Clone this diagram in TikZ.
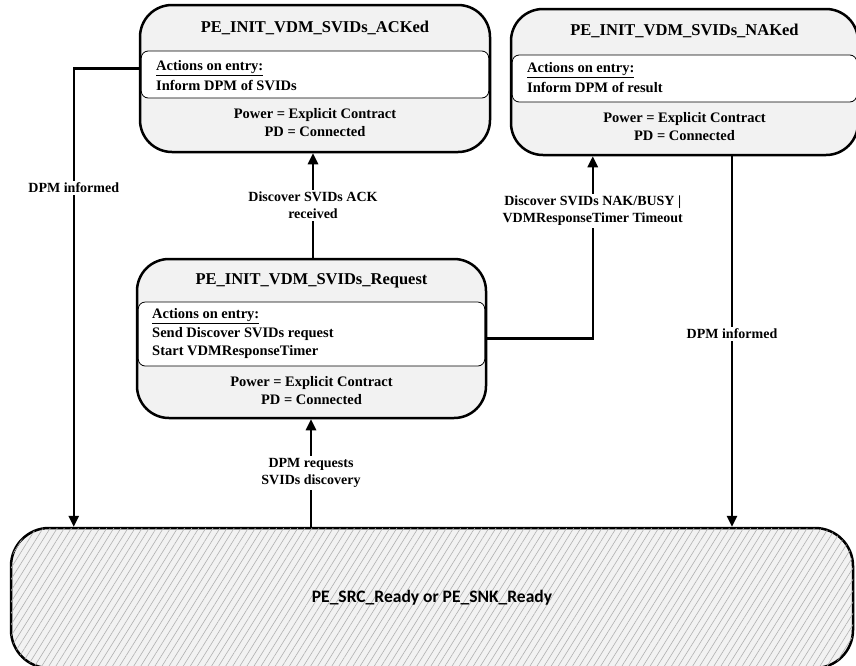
\documentclass[tikz,border=0pt]{standalone}
\usepackage{fontspec}
\setmainfont{Liberation Serif}
\newfontfamily\readyfont{Carlito}
\usetikzlibrary{arrows.meta,patterns.meta}
\definecolor{statefill}{HTML}{F2F2F2}
\definecolor{hatchgray}{HTML}{B0B0B0}

\begin{document}
\begin{tikzpicture}[x=1pt,y=-1pt,
    state node/.style={draw,line width=2.5pt,fill=statefill,rounded corners=32pt,inner sep=0pt},
    band node/.style={draw,line width=0.8pt,fill=white,rounded corners=7pt,inner sep=0pt},
    title node/.style={font=\fontsize{16.5}{19}\selectfont\bfseries,inner sep=0pt},
    text node/.style={font=\fontsize{14.5}{18}\selectfont\bfseries,align=center,inner sep=0pt},
    head node/.style={font=\fontsize{14.5}{17.5}\selectfont\bfseries,inner sep=0pt,anchor=west},
    entry node/.style={head node,align=left},
    ready node/.style={draw,line width=2.5pt,fill=statefill,rounded corners=38pt,inner sep=0pt,
        postaction={pattern={Lines[angle=58,distance=6pt,line width=0.6pt]},pattern color=hatchgray}},
    edge label/.style={font=\fontsize{14}{17}\selectfont\bfseries,align=center,fill=white,inner sep=2pt},
    move line/.style={line width=2.5pt,-{Triangle[length=11pt,width=10pt]}}]

    \useasboundingbox (0,0) rectangle (856,665);
    \clip (0,0) rectangle (856,665);

    % Define states
    \node[state node,minimum width=350pt,minimum height=147pt] (acked) at (315,78.5) {};
    \node[band node,minimum width=347.5pt,minimum height=47pt] (acked band) at (315,74.5) {};
    \node[title node] (acked title) at (315,28) {PE\_INIT\_VDM\_SVIDs\_ACKed};
    \node[head node] (acked head) at (156,68) {\underline{Actions on entry:}};
    \node[entry node] (acked entry) at (156,85) {Inform DPM of SVIDs};
    \node[text node] (acked info) at (315,123) {Power = Explicit Contract\\PD = Connected};

    \node[state node,minimum width=347pt,minimum height=146pt] (naked) at (684.5,82) {};
    \node[band node,minimum width=344.5pt,minimum height=47pt] (naked band) at (684.5,78.5) {};
    \node[title node] (naked title) at (684.5,31) {PE\_INIT\_VDM\_SVIDs\_NAKed};
    \node[head node] (naked head) at (527,70) {\underline{Actions on entry:}};
    \node[entry node] (naked entry) at (527,87) {Inform DPM of result};
    \node[text node] (naked info) at (684.5,127) {Power = Explicit Contract\\PD = Connected};

    \node[state node,minimum width=349pt,minimum height=159pt] (request) at (311.5,338.5) {};
    \node[band node,minimum width=346.5pt,minimum height=64pt] (request band) at (311.5,334) {};
    \node[title node] (request title) at (311.5,281) {PE\_INIT\_VDM\_SVIDs\_Request};
    \node[head node] (request head) at (152,316) {\underline{Actions on entry:}};
    \node[entry node] (request entry) at (152,343) {Send Discover SVIDs request\\Start VDMResponseTimer};
    \node[text node] (request info) at (311.5,391) {Power = Explicit Contract\\PD = Connected};

    \node[ready node,minimum width=842pt,minimum height=140pt] (ready) at (432,598)
        {\readyfont\fontsize{17.5}{20}\selectfont\bfseries PE\_SRC\_Ready or PE\_SNK\_Ready};

    % Draw transitions
    \draw[move line] ([yshift=6pt]acked band.west) -| ([xshift=64pt]ready.north west)
        node[edge label,pos=0.63] {DPM informed};
    \draw[move line] (request.north -| 313,0) -- (acked.south -| 313,0)
        node[edge label,midway] {Discover SVIDs ACK\\received};
    \draw[move line] (request.east) -| ([xshift=83pt]naked.south west)
        node[edge label,pos=0.85] {Discover SVIDs NAK/BUSY |\\VDMResponseTimer Timeout};
    \draw[move line] ([xshift=47.5pt]naked.south) -- ([xshift=47.5pt]naked.south |- ready.north)
        node[edge label,pos=0.48] {DPM informed};
    \draw[move line] (ready.north -| 311,0) -- (request.south -| 311,0)
        node[edge label,midway] {DPM requests\\SVIDs discovery};

\end{tikzpicture}
\end{document}
